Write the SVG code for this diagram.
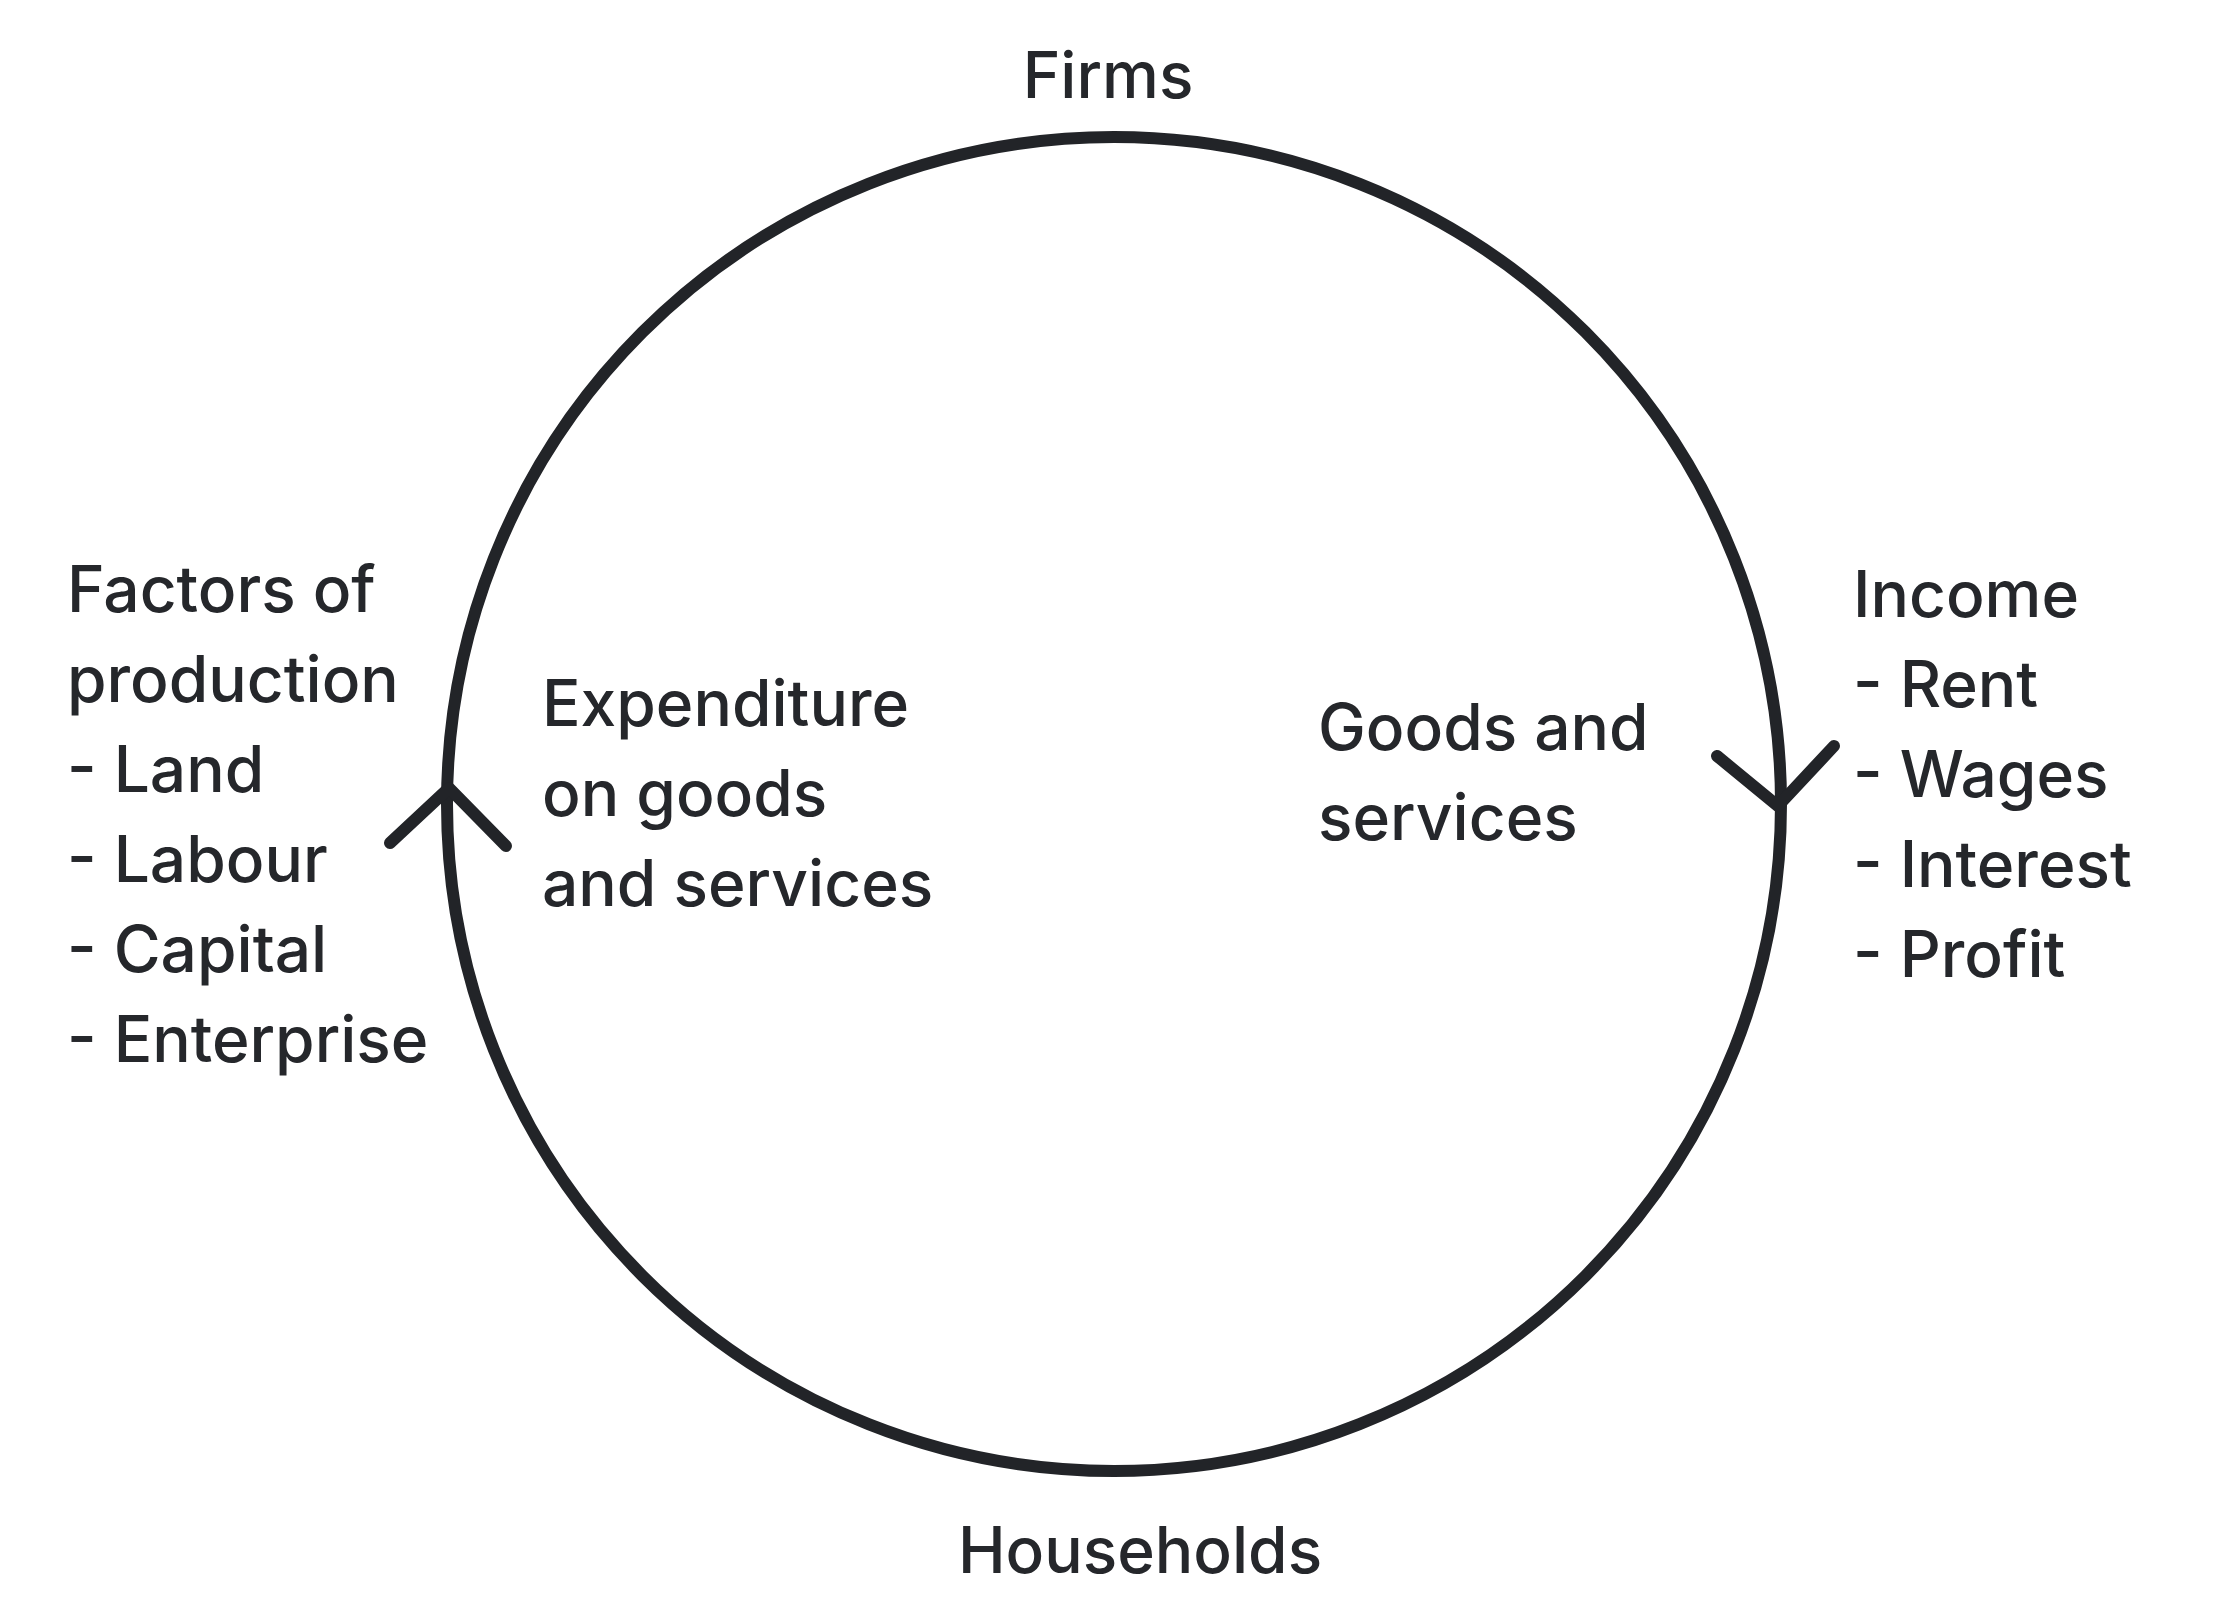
<svg xmlns="http://www.w3.org/2000/svg" width="2226" height="1616" viewBox="0 0 2226 1616">
<style>
text{font-family:Inter,"Noto Sans",sans-serif;font-size:64px;fill:#25272b;font-weight:500}
.l{fill:none;stroke:#222428;stroke-width:12;stroke-linecap:round;stroke-linejoin:round}
</style>
<rect width="2226" height="1616" fill="#fff"/>
<g id="cycle"><ellipse class="l" cx="1114" cy="804" rx="667" ry="667"/></g>
<g id="connectors">
<polyline class="l" points="390,843 449,788 506,846"/>
<polyline class="l" points="1717,756 1778,806 1834,746"/>
</g>
<g id="firms"><text x="1108" y="98" text-anchor="middle">Firms</text></g>
<g id="households"><text x="1140" y="1573" text-anchor="middle">Households</text></g>
<g id="factors"><text x="67" y="612">Factors of</text><text x="67" y="702">production</text><text x="67" y="792">- Land</text><text x="67" y="882">- Labour</text><text x="67" y="972">- Capital</text><text x="67" y="1062">- Enterprise</text></g>
<g id="expenditure"><text x="542" y="726">Expenditure</text><text x="542" y="816">on goods</text><text x="542" y="906">and services</text></g>
<g id="goods"><text x="1318" y="750">Goods and</text><text x="1318" y="840">services</text></g>
<g id="income"><text x="1853" y="617">Income</text><text x="1853" y="707">- Rent</text><text x="1853" y="797">- Wages</text><text x="1853" y="887">- Interest</text><text x="1853" y="977">- Profit</text></g>
</svg>
